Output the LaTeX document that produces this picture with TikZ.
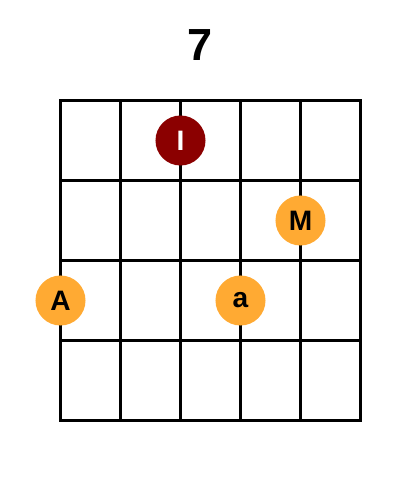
\documentclass[tikz,border=0pt]{standalone}
\usepackage{fontspec}
\setmainfont{Liberation Sans}
\definecolor{fingerorange}{RGB}{255,170,51}
\definecolor{fingerred}{RGB}{139,0,0}
\tikzset{
    finger/.style={circle, inner sep=0pt, minimum size=1.25cm, fill=fingerorange, font=\fontsize{20}{20}\selectfont\bfseries},
    thumb/.style={finger, fill=fingerred, text=white}
}
\begin{document}
\begin{tikzpicture}[x=0.025cm,y=-0.025cm]
    % Frame
    \useasboundingbox (0,0) rectangle (400,500);
    
    % Title
    \node[font=\fontsize{32}{32}\selectfont\bfseries] (title) at (200.5,45) {7};
    
    % Strings and frets
    \foreach \x in {60.5,120.5,...,360.5} {
        \draw[line width=2.15pt] (\x,100.5) -- (\x,420.5);
    }
    \foreach \y in {100.5,180.5,...,420.5} {
        \draw[line width=2.15pt, line cap=rect] (60.5,\y) -- (360.5,\y);
    }
    
    % Fingers
    \node[thumb] (fingerI) at (180.5,140.5) {I};
    \node[finger] (fingerM) at (300.5,220.5) {M};
    \node[finger] (fingerA) at (60.5,300.5) {A};
    \node[finger] (fingera) at (240.5,300.5) {a};
    
\end{tikzpicture}
\end{document}
